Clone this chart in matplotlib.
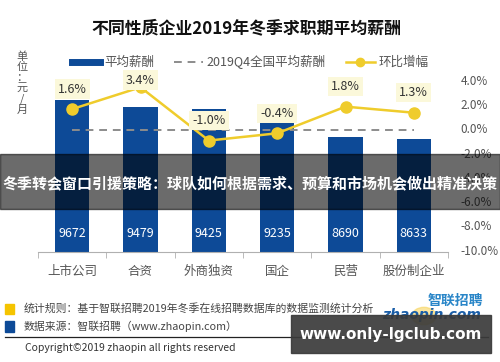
import numpy as np
import matplotlib
matplotlib.use("Agg")
import matplotlib.pyplot as plt
from matplotlib.patches import Rectangle, Circle
from matplotlib.lines import Line2D

plt.rcParams["font.family"] = ["Noto Sans CJK SC", "DejaVu Sans"]

# data
categories = ["上市公司", "合资", "外商独资", "国企", "民营", "股份制企业"]
avg_salary = [9672, 9479, 9425, 9235, 8690, 8633]
qoq_growth = [1.6, 3.4, -1.0, -0.4, 1.8, 1.3]
national_avg = 8870
pct_ticks = [4, 2, 0, -2, -4, -6, -8, -10]

BLUE = "#0d4a97"
YELLOW = "#efcc2c"
GRAY = "#555555"

fig = plt.figure(figsize=(5, 3.62), dpi=100)
W, H = 500, 362


def fx(px):
    return px / W


def fy(py):
    return 1 - py / H


ax = fig.add_axes([fx(38), fy(252), fx(448) - fx(38), fy(80) - fy(252)])
x = np.arange(len(categories))

ax.bar(x, avg_salary, width=0.5, color=BLUE, zorder=2)
ax.plot([x[0], x[-1]], [national_avg, national_avg], ls=(0, (4, 3)),
        color="#8c8c8c", lw=1.4, zorder=3)
for i, v in enumerate(avg_salary):
    ax.annotate(str(v), xy=(i, 0), xycoords=("data", "axes fraction"),
                xytext=(0, 13), textcoords="offset points", ha="center",
                va="center", color="white", fontsize=9, zorder=4)

ax.set_xlim(-0.5, len(categories) - 0.5)
ax.set_ylim(5640, 10200)
ax.set_yticks([])
for s in ["top", "left", "right"]:
    ax.spines[s].set_visible(False)
ax.spines["bottom"].set_color("#b0b0b0")
ax.set_xticks(x)
ax.set_xticklabels(categories, fontsize=9, color=GRAY)
ax.tick_params(axis="x", which="major", length=0, pad=9)
ax.set_xticks(np.arange(-0.5, len(categories)), minor=True)
ax.tick_params(axis="x", which="minor", length=4, color="#b0b0b0")

ax2 = ax.twinx()
ax2.plot(x, qoq_growth, color=YELLOW, lw=1.8, marker="o", markersize=8,
         markeredgecolor=YELLOW, zorder=3)
top_pct = 4.0
for i, v in enumerate(qoq_growth):
    ax2.text(i, min(v + 1.65, top_pct), f"{v:.1f}%", ha="center", va="center",
             fontsize=9, color="#333333",
             bbox=dict(boxstyle="square,pad=0.25", fc="#fbf8da", ec="none"),
             zorder=4, clip_on=False)
ax2.set_ylim(-10.2, top_pct)
ax2.set_yticks(pct_ticks)
ax2.set_yticklabels([f"{t:.1f}%" for t in pct_ticks], fontsize=8.5, color=GRAY)
ax2.tick_params(axis="y", length=0, pad=9)
for s in ["top", "left", "right", "bottom"]:
    ax2.spines[s].set_visible(False)

# title
fig.text(0.493, fy(28), "不同性质企业2019年冬季求职期平均薪酬", ha="center",
         va="center", fontsize=12.2, fontweight="bold", color="#111111")

# unit label
fig.text(fx(22), fy(83), "单\n位\n：\n元\n/\n月", ha="center", va="center",
         fontsize=8, color=GRAY, linespacing=1.05)

# legend
handles = [
    Line2D([], [], color=BLUE, lw=5),
    Line2D([], [], color="#8c8c8c", lw=1.4, ls=(0, (4, 3))),
    Line2D([], [], color=YELLOW, lw=1.8, marker="o", markersize=6),
]
fig.legend(handles, ["平均薪酬", "2019Q4全国平均薪酬", "环比增幅"], loc="center",
           bbox_to_anchor=(0.5, fy(62)), ncol=3, frameon=False, fontsize=9,
           handlelength=2.3, handletextpad=0.3, columnspacing=1.6,
           labelcolor=GRAY)

# footer
fig.patches.append(Rectangle((fx(5), fy(314)), fx(9), 10 / H, color="#f5c400",
                             transform=fig.transFigure))
fig.patches.append(Rectangle((fx(5), fy(332)), fx(9), 11 / H, color="#0d4a97",
                             transform=fig.transFigure))
fig.text(fx(24), fy(308), "统计规则：基于智联招聘2019年冬季在线招聘数据库的数据监测统计分析",
         fontsize=7.8, color="#444444", va="center")
fig.text(fx(24), fy(326), "数据来源：智联招聘（www.zhaopin.com）",
         fontsize=7.8, color="#444444", va="center")
fig.add_artist(Line2D([fx(5), fx(488)], [fy(337), fy(337)], color="#222222",
                      lw=0.9, transform=fig.transFigure))
fig.text(fx(25), fy(348), "Copyright©2019 zhaopin all rights reserved",
         fontsize=7.5, color="#333333", va="center")

# zhaopin logo
fig.patches.append(Circle((fx(424), fy(316)), 12 / W, color="#f7d560", alpha=0.6,
                          transform=fig.transFigure))
fig.text(fx(483), fy(301), "智联招聘", ha="right", va="center", fontsize=10,
         fontweight="bold", style="italic", color="#2a86c8")
fig.text(fx(481), fy(315), "zhaopin.com", ha="right", va="center", fontsize=10,
         fontweight="bold", style="italic", color="#1a5ea8", family="DejaVu Sans")

# watermark band
fig.patches.append(Rectangle((0, fy(209)), 1, 55 / H, color="black", alpha=0.58,
                             transform=fig.transFigure, zorder=10))
fig.text(0.5, fy(183), "冬季转会窗口引援策略：球队如何根据需求、预算和市场机会做出精准决策",
         ha="center", va="center", fontsize=10.8, fontweight="bold",
         color="white", zorder=11)

# site box
fig.patches.append(Rectangle((fx(291), fy(353)), fx(200), 38 / H, color="#3a3a3a",
                             alpha=0.92, transform=fig.transFigure, zorder=10))
fig.text(fx(391), fy(335), "www.only-lgclub.com", ha="center", va="center",
         fontsize=11, fontweight="bold", color="white", zorder=11,
         family="DejaVu Sans")

fig.savefig("out.png", dpi=100)
